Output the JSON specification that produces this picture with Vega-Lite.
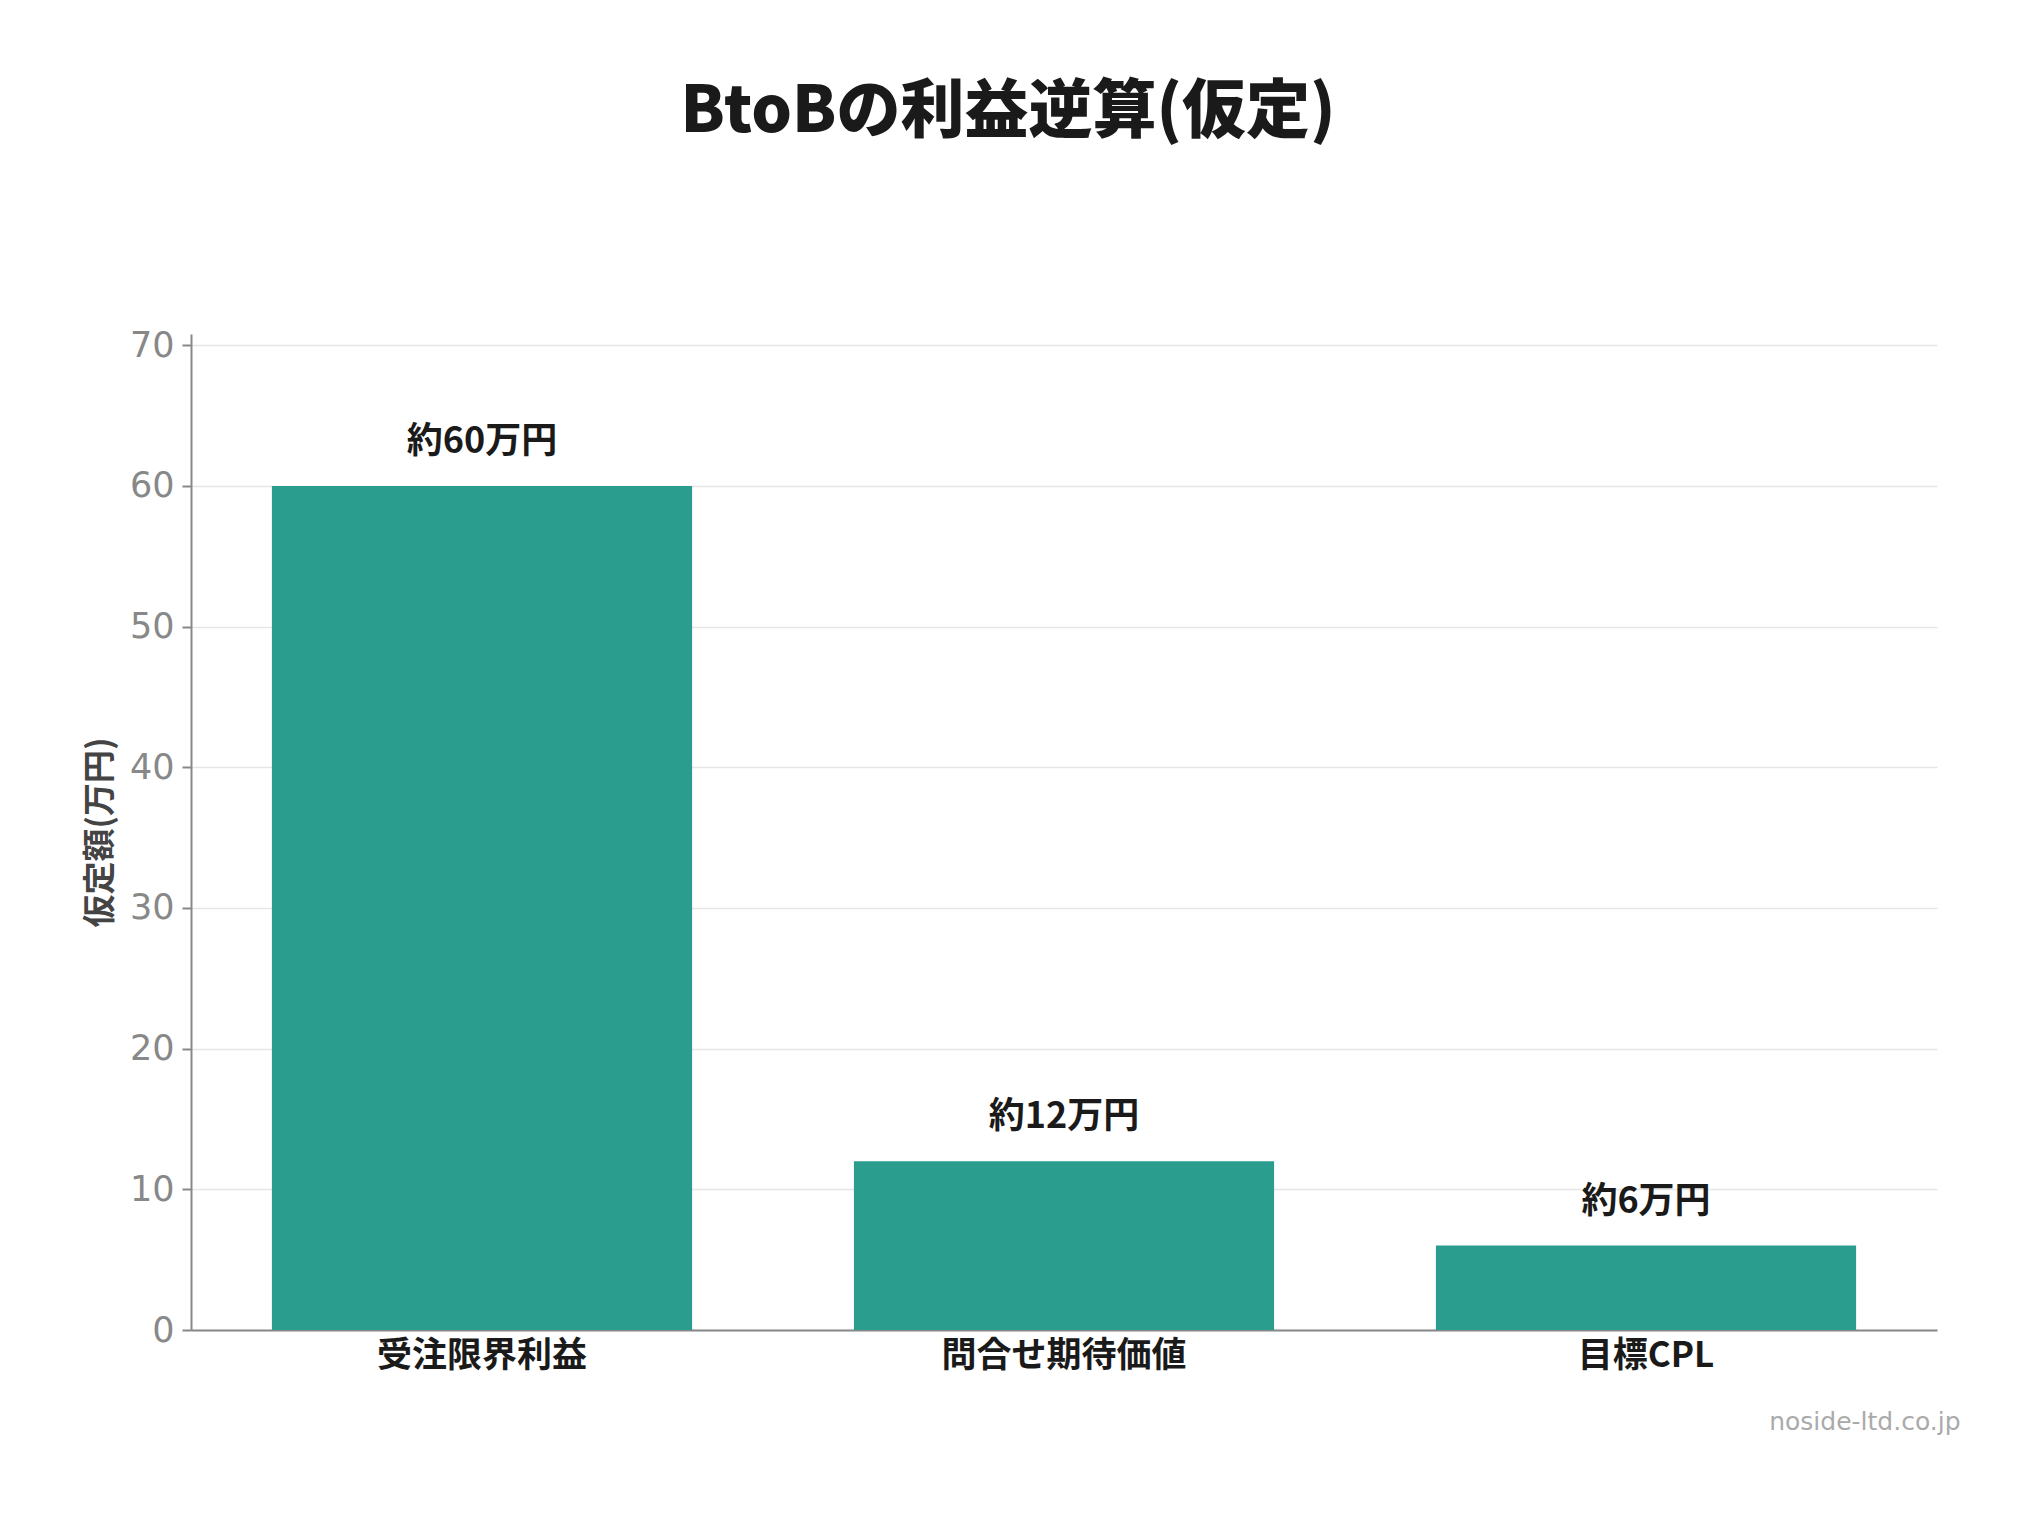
{
  "$schema": "https://vega.github.io/schema/vega-lite/v6.json",
  "autosize": {"type": "none"},
  "width": 1746,
  "height": 996,
  "padding": {"left": 191, "top": 334, "right": 103, "bottom": 186},
  "background": "white",
  "title": {
    "text": "BtoBの利益逆算(仮定)",
    "font": "Noto Sans CJK JP",
    "fontSize": 64,
    "fontWeight": 900,
    "color": "#1a1a1a",
    "anchor": "middle",
    "dx": -56,
    "offset": 183
  },
  "data": {
    "values": [
      {"項目": "受注限界利益", "金額": 60, "表示": "約60万円"},
      {"項目": "問合せ期待価値", "金額": 12, "表示": "約12万円"},
      {"項目": "目標CPL", "金額": 6, "表示": "約6万円"}
    ]
  },
  "encoding": {
    "x": {
      "field": "項目",
      "type": "nominal",
      "sort": null,
      "scale": {"paddingInner": 0.278, "paddingOuter": 0.139},
      "axis": {
        "title": "noside-ltd.co.jp",
        "titleFont": "DejaVu Sans",
        "titleFontSize": 25,
        "titleFontWeight": "normal",
        "titleColor": "#aaaaaa",
        "titleAnchor": "end",
        "titleAlign": "right",
        "titleBaseline": "middle",
        "titleX": 1769,
        "titleY": 91,
        "labelAngle": 0,
        "labelLimit": 0,
        "labelFont": "Noto Sans CJK JP",
        "labelFontSize": 35,
        "labelFontWeight": "bold",
        "labelColor": "#1a1a1a",
        "labelPadding": 8,
        "ticks": false,
        "domainColor": "#888888",
        "domainWidth": 2,
        "grid": false
      }
    },
    "y": {
      "field": "金額",
      "type": "quantitative",
      "scale": {"domain": [0, 70.8], "nice": false},
      "axis": {
        "title": "仮定額(万円)",
        "titleFont": "Noto Sans CJK JP",
        "titleFontSize": 33,
        "titleFontWeight": "bold",
        "titleColor": "#444444",
        "titlePadding": 12,
        "values": [0, 10, 20, 30, 40, 50, 60, 70],
        "labelFont": "DejaVu Sans",
        "labelFontSize": 35,
        "labelColor": "#888888",
        "labelPadding": 8,
        "tickColor": "#888888",
        "tickSize": 9,
        "tickWidth": 2,
        "domainColor": "#888888",
        "domainWidth": 2,
        "gridColor": "#e6e6e6",
        "gridWidth": 1.5
      }
    }
  },
  "layer": [
    {"mark": {"type": "bar", "color": "#2a9d8f"}},
    {
      "mark": {
        "type": "text",
        "font": "Noto Sans CJK JP",
        "fontSize": 36,
        "fontWeight": "bold",
        "color": "#1a1a1a",
        "baseline": "bottom",
        "dy": -25
      },
      "encoding": {"text": {"field": "表示"}}
    }
  ],
  "config": {"view": {"stroke": null}}
}
